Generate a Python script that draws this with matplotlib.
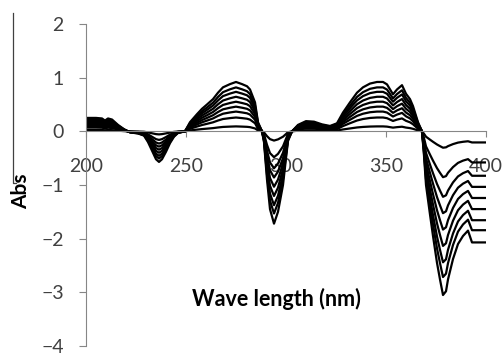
import matplotlib.pyplot as plt
from matplotlib.lines import Line2D

# wavelength (nm) and absorbance of the deepest trace
wavelength = [200, 205, 208, 209.5, 211, 213, 216, 219, 222, 226, 229, 231, 233,
              235, 236.5, 238, 240, 242, 244, 246, 249.5, 252, 255.5, 258, 260.5,
              263.5, 266, 268.5, 272, 275, 278, 280.5, 282, 284.5, 286, 288, 289,
              290.5, 292, 294, 296, 298.5, 300, 301, 303, 306, 310, 314, 318, 322,
              325.5, 328.5, 332, 335.5, 338.5, 342, 345.5, 348.5, 350.5, 353.5,
              355.5, 358, 360, 362, 363.5, 366, 368, 369, 370, 372, 373.5, 375.5,
              377, 378.5, 380, 381, 383.5, 386, 388.5, 391, 393, 400]
abs_max = [0.25, 0.25, 0.24, 0.20, 0.24, 0.22, 0.12, 0.04, -0.02, -0.04, -0.08, -0.20, -0.36,
           -0.52, -0.57, -0.52, -0.38, -0.22, -0.10, -0.03, 0.0, 0.17, 0.32, 0.42, 0.50,
           0.60, 0.72, 0.82, 0.88, 0.92, 0.88, 0.84, 0.78, 0.54, 0.17, 0.0, -0.20,
           -0.90, -1.45, -1.72, -1.50, -1.00, -0.50, -0.18, 0.0, 0.12, 0.19, 0.18, 0.13, 0.10,
           0.15, 0.35, 0.54, 0.72, 0.82, 0.89, 0.92, 0.92, 0.875, 0.69,
           0.78, 0.86, 0.70, 0.60, 0.47, 0.17, 0.0, -0.45, -1.00, -1.55, -1.95, -2.45,
           -2.76, -3.05, -2.98, -2.76, -2.38, -2.10, -1.95, -1.85, -2.07, -2.07]
# relative level of each trace (read from the end values at 400 nm)
levels = [0.10, 0.28, 0.40, 0.50, 0.60, 0.70, 0.80, 0.89, 1.0]

plt.rcParams['font.family'] = ['Lato', 'DejaVu Sans']

fig = plt.figure(figsize=(5.04, 3.55), dpi=100)
ax = fig.add_axes([86 / 504, 9 / 355, 400 / 504, 322 / 355])

for k in levels:
    ax.plot(wavelength, [k * a for a in abs_max], color='black', lw=1.6)

ax.set_xlim(200, 400)
ax.set_ylim(-4, 2)
ax.set_xticks([200, 250, 300, 350, 400])
ax.set_yticks([-4, -3, -2, -1, 0, 1, 2])

ax.spines['top'].set_visible(False)
ax.spines['right'].set_visible(False)
ax.spines['bottom'].set_position(('data', 0))
for s in ['left', 'bottom']:
    ax.spines[s].set_color('#868686')
    ax.spines[s].set_linewidth(0.8)

ax.tick_params(axis='y', length=5, width=0.8, color='#868686', pad=11,
               labelsize=14, labelcolor='#404040')
ax.tick_params(axis='x', length=4, width=0.8, color='#868686', pad=15,
               labelsize=14, labelcolor='#404040')

fig.text(276 / 504, 1 - 299 / 355, 'Wave length (nm)', ha='center', va='center',
         fontsize=15.5, fontweight='bold')
fig.text(21 / 504, 1 - 191 / 355, 'Abs', ha='center', va='center', rotation=90,
         fontsize=15, fontweight='bold')

# stray frame line at left edge
fig.add_artist(Line2D([12.5 / 504, 12.5 / 504, 16 / 504],
                      [1 - 13 / 355, 1 - 183 / 355, 1 - 183 / 355],
                      color='#404040', lw=0.9))

fig.savefig('out.png', dpi=100)
